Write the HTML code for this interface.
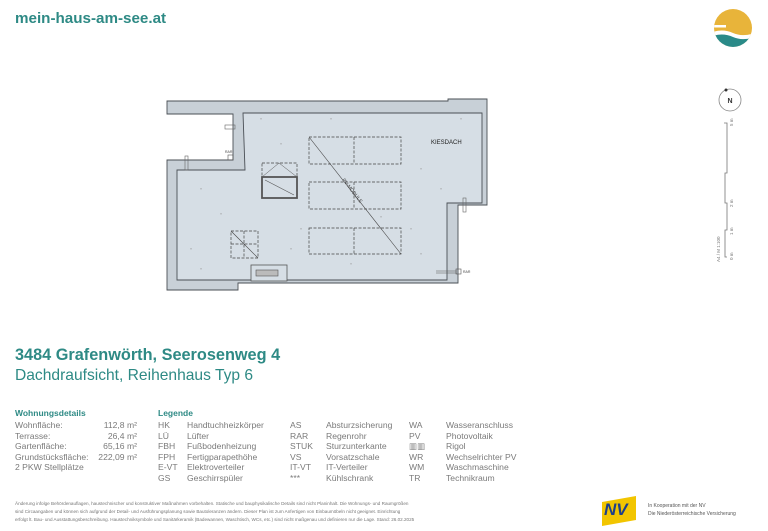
<!DOCTYPE html>
<html><head><meta charset="utf-8"><style>
*{margin:0;padding:0}
body{width:768px;height:531px;background:#fff;position:relative;overflow:hidden;font-family:"Liberation Sans",sans-serif}
.a{position:absolute;white-space:nowrap}
.t{color:#2e8a85}
.g{color:#7a7a7a;font-size:8.6px}
</style></head><body>
<div class="a t" style="left:15px;top:10px;font-size:15.2px;font-weight:bold">mein-haus-am-see.at</div>

<svg class="a" style="left:0;top:0" width="768" height="531">
 <defs><clipPath id="c"><circle cx="733" cy="28" r="19"/></clipPath></defs>
 <g clip-path="url(#c)">
  <rect x="710" y="5" width="50" height="50" fill="#e8b43a"/>
  <path d="M710 33 Q722 28 733 33 T760 31 L760 50 L710 50Z" fill="#fff"/>
  <path d="M710 37 Q722 32 733 37 T760 35 L760 50 L710 50Z" fill="#2a8a88"/>
  <rect x="712" y="25" width="14" height="2.5" fill="#fff"/>
 </g>
 <circle cx="730" cy="100" r="11" fill="none" stroke="#888" stroke-width="0.8"/>
 <circle cx="726" cy="90" r="1.5" fill="#333"/>
 <text x="730" y="103" font-size="7" text-anchor="middle" font-weight="bold" fill="#333">N</text>
 <path d="M724 123 H727 V173 H725 V203 H727 V230 H725 V257 H727" fill="none" stroke="#777" stroke-width="0.8"/>
 <g font-size="4.5" fill="#777">
  <text transform="translate(733,126) rotate(-90)">5 m</text>
  <text transform="translate(733,207) rotate(-90)">2 m</text>
  <text transform="translate(733,235) rotate(-90)">1 m</text>
  <text transform="translate(733,260) rotate(-90)">0 m</text>
  <text transform="translate(720,262) rotate(-90)">A4 / M 1:100</text>
 </g>

 <g stroke="#4a4f55" stroke-width="0.9">
  <path d="M167 101 H448 V99 H487 V205 H458 V283 H238 V290 H167 V160 H233 V114 H167Z" fill="#c8d0d7"/>
  <path d="M243 113 H482 V203 H447 V280 H177 V170 H245 Z" fill="#d6dee5"/>
 </g>
 <g fill="none" stroke="#444" stroke-width="0.7" stroke-dasharray="3,1.5">
  <rect x="309" y="137" width="92" height="27"/><line x1="354" y1="137" x2="354" y2="164"/>
  <rect x="309" y="182" width="92" height="27"/><line x1="354" y1="182" x2="354" y2="209"/>
  <rect x="309" y="228" width="92" height="26"/><line x1="354" y1="228" x2="354" y2="254"/>
  <rect x="262" y="163" width="35" height="14"/>
  <rect x="231" y="231" width="27" height="27"/>
  <line x1="231" y1="244" x2="258" y2="244"/><line x1="244" y1="231" x2="244" y2="258"/>
 </g>
 <line x1="309" y1="137" x2="401" y2="254" stroke="#444" stroke-width="0.6"/>
 <line x1="231" y1="231" x2="258" y2="258" stroke="#444" stroke-width="0.6"/>
 <text transform="translate(342,180) rotate(52)" font-size="5" fill="#444">PV-MODULE</text>
 <rect x="262" y="177" width="35" height="21" fill="none" stroke="#555" stroke-width="1.8"/>
 <line x1="265" y1="180" x2="294" y2="195" stroke="#555" stroke-width="0.6"/>
 <path d="M262 177 L279 163 L297 177" fill="none" stroke="#555" stroke-width="0.5"/>
 <rect x="251" y="265" width="36" height="16" fill="#d6dee5" stroke="#555" stroke-width="0.8"/>
 <rect x="256" y="270" width="22" height="6" fill="#bbb" stroke="#555" stroke-width="0.6"/>
 <rect x="225" y="125" width="10" height="4" fill="none" stroke="#666" stroke-width="0.6"/>
 <rect x="185" y="156" width="3" height="14" fill="none" stroke="#666" stroke-width="0.6"/>
 <rect x="228" y="155" width="5" height="5" fill="none" stroke="#555" stroke-width="0.6"/>
 <text x="225" y="153" font-size="3.5" fill="#444">RAR</text>
 <rect x="463" y="198" width="3" height="14" fill="none" stroke="#666" stroke-width="0.6"/>
 <line x1="436" y1="271" x2="457" y2="271" stroke="#555" stroke-width="0.5"/>
 <line x1="436" y1="273" x2="457" y2="273" stroke="#555" stroke-width="0.5"/>
 <rect x="456" y="269" width="5" height="5" fill="none" stroke="#555" stroke-width="0.6"/>
 <text x="463" y="273" font-size="3.5" fill="#444">RAR</text>
 <text x="431" y="144" font-size="6" fill="#222">KIESDACH</text>
 <g fill="#999" font-size="4">
  <text x="200" y="190">▿</text><text x="280" y="145">▿</text><text x="420" y="170">▿</text><text x="220" y="215">▿</text>
  <text x="190" y="250">▿</text><text x="300" y="230">▿</text><text x="410" y="230">▿</text><text x="350" y="265">▿</text>
  <text x="440" y="190">▿</text><text x="260" y="120">▿</text><text x="330" y="120">▿</text><text x="460" y="120">▿</text>
  <text x="200" y="270">▿</text><text x="420" y="255">▿</text><text x="290" y="250">▿</text><text x="380" y="218">▿</text>
 </g>
</svg>

<div class="a t" style="left:15px;top:346px;font-size:16.3px;font-weight:bold">3484 Grafenwörth, Seerosenweg 4</div>
<div class="a t" style="left:15px;top:367px;font-size:15.6px">Dachdraufsicht, Reihenhaus Typ 6</div>

<div class="a t" style="left:15px;top:408px;font-size:8.5px;font-weight:bold">Wohnungsdetails</div>
<div class="a t" style="left:158px;top:408px;font-size:8.5px;font-weight:bold">Legende</div>

<div class="a g" style="left:15px;top:420px;line-height:10.6px">Wohnfläche:<br>Terrasse:<br>Gartenfläche:<br>Grundstücksfläche:<br>2 PKW Stellplätze</div>
<div class="a g" style="left:90px;top:420px;line-height:10.6px;width:47px;text-align:right">112,8 m²<br>26,4 m²<br>65,16 m²<br>222,09 m²</div>
<div class="a g" style="left:158px;top:420px;line-height:10.6px">HK<br>LÜ<br>FBH<br>FPH<br>E-VT<br>GS</div>
<div class="a g" style="left:187px;top:420px;line-height:10.6px">Handtuchheizkörper<br>Lüfter<br>Fußbodenheizung<br>Fertigparapethöhe<br>Elektroverteiler<br>Geschirrspüler</div>
<div class="a g" style="left:290px;top:420px;line-height:10.6px">AS<br>RAR<br>STUK<br>VS<br>IT-VT<br>***</div>
<div class="a g" style="left:326px;top:420px;line-height:10.6px">Absturzsicherung<br>Regenrohr<br>Sturzunterkante<br>Vorsatzschale<br>IT-Verteiler<br>Kühlschrank</div>
<div class="a g" style="left:409px;top:420px;line-height:10.6px">WA<br>PV<br>▥▥<br>WR<br>WM<br>TR</div>
<div class="a g" style="left:446px;top:420px;line-height:10.6px">Wasseranschluss<br>Photovoltaik<br>Rigol<br>Wechselrichter PV<br>Waschmaschine<br>Technikraum</div>

<div class="a" style="left:15px;top:500px;font-size:4.6px;line-height:8px;color:#777">Änderung infolge Behördenauflagen, haustechnischer und konstruktiver Maßnahmen vorbehalten. Statische und bauphysikalische Details sind nicht Planinhalt. Die Wohnungs- und Raumgrößen<br>sind Circaangaben und können sich aufgrund der Detail- und Ausführungsplanung sowie Bautoleranzen ändern. Dieser Plan ist zum Anfertigen von Einbaumöbeln nicht geeignet. Einrichtung<br>erfolgt lt. Bau- und Ausstattungsbeschreibung. Haustechniksymbole und Sanitärkeramik (Badewannen, Waschtisch, WCs, etc.) sind nicht maßgenau und definieren nur die Lage. Stand: 26.02.2025</div>

<div class="a" style="left:602px;top:499px;width:34px;height:24px;background:#f2c500;transform:skewY(-10deg)"></div>
<div class="a" style="left:604px;top:500px;font-size:17px;font-weight:bold;color:#1d3f8a;font-style:italic">NV</div>
<div class="a" style="left:648px;top:502px;font-size:5px;line-height:8px;color:#555">In Kooperation mit der NV<br>Die Niederösterreichische Versicherung</div>
</body></html>
